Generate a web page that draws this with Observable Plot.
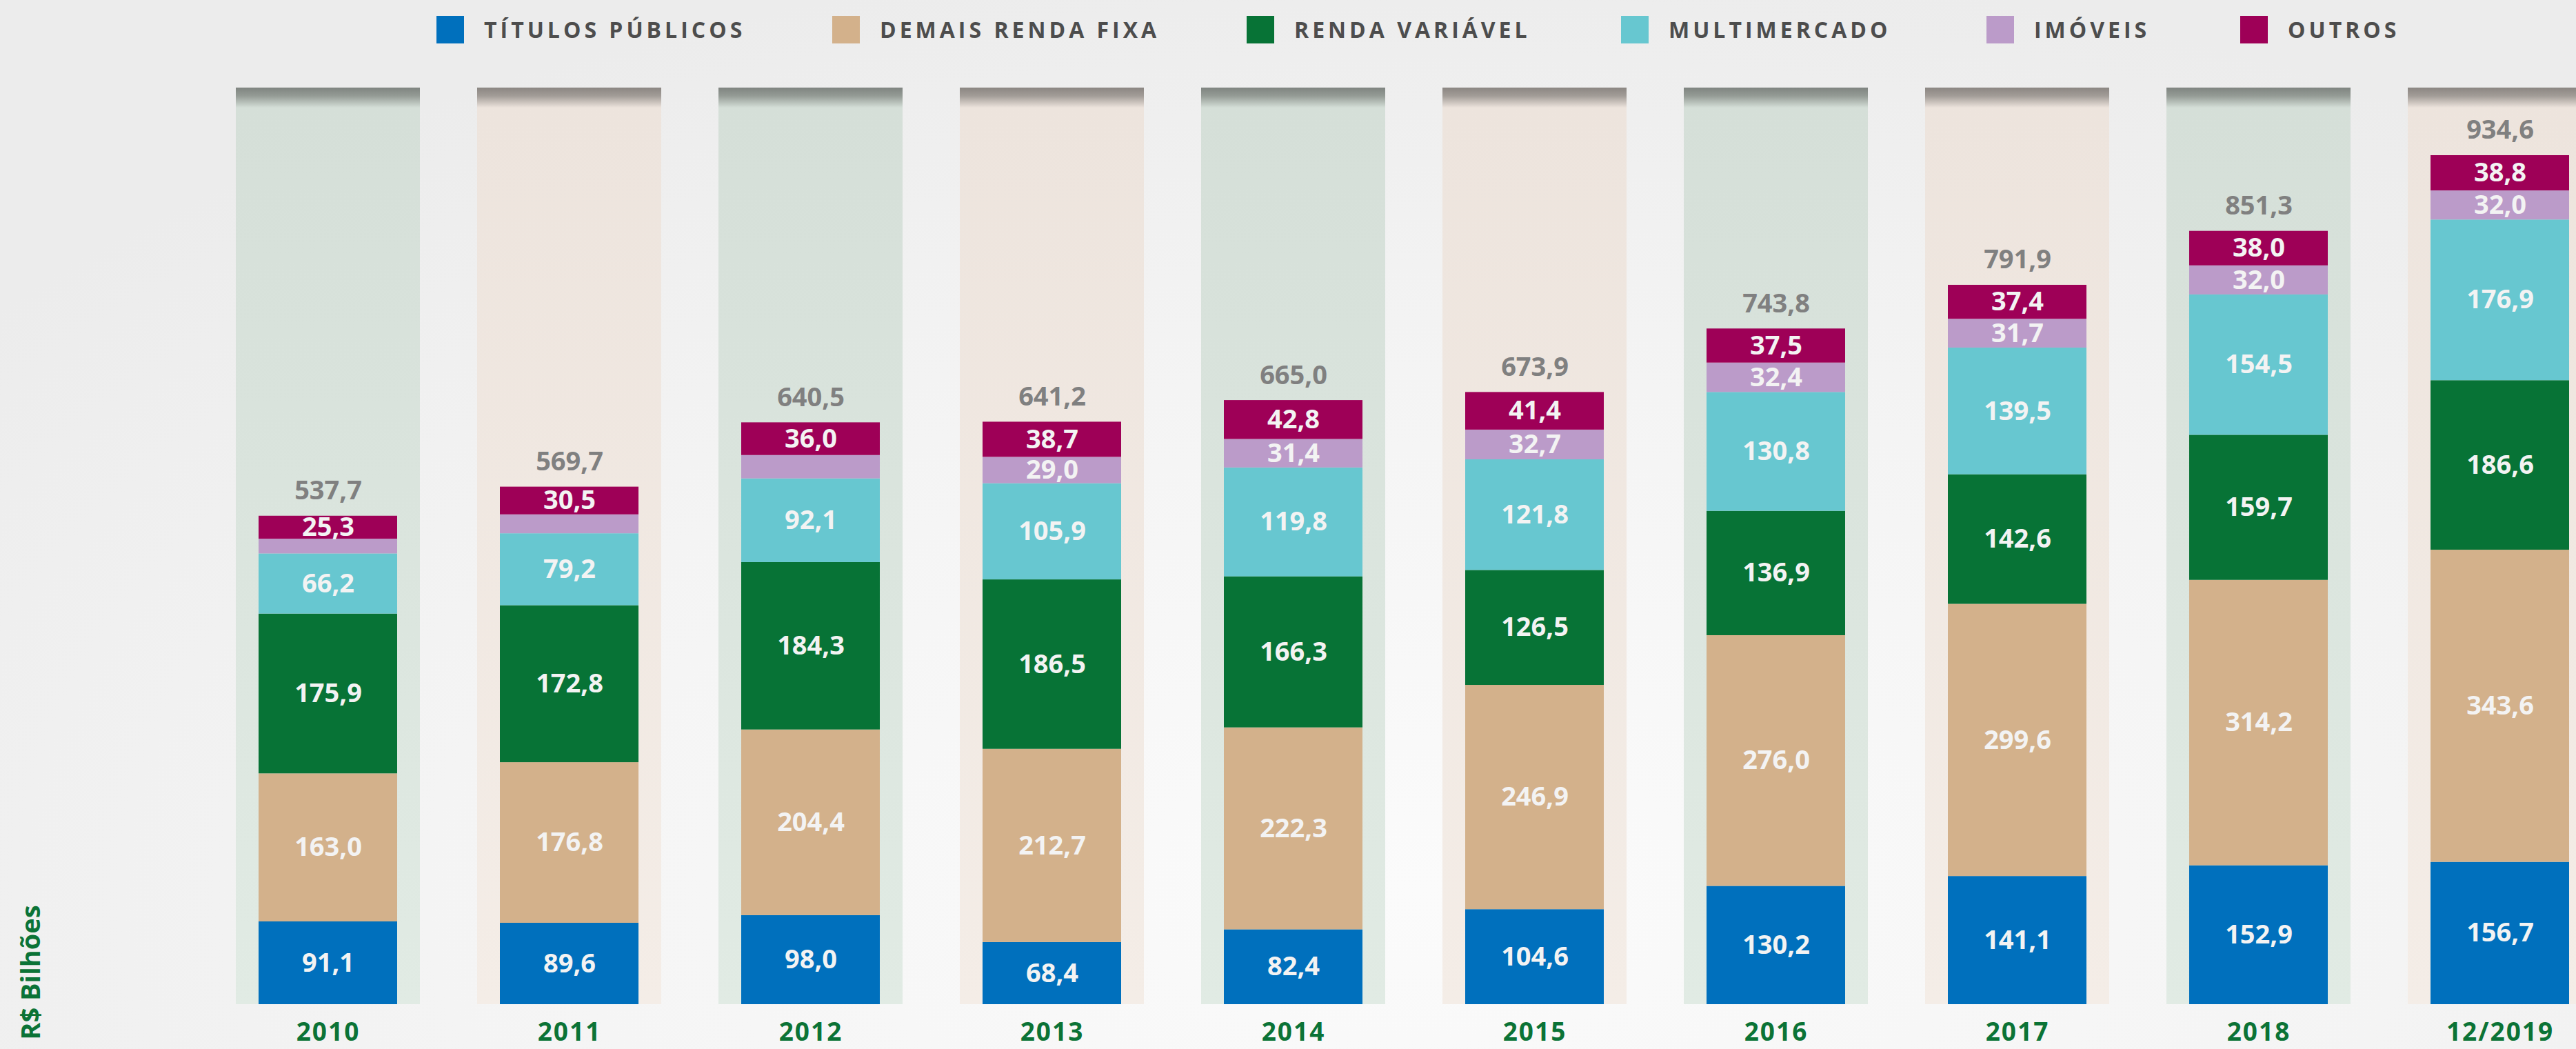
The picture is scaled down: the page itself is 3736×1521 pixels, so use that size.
<!DOCTYPE html>
<html lang="pt-BR">
<head>
<meta charset="utf-8">
<script src="https://cdn.jsdelivr.net/npm/d3@7"></script>
<script src="https://cdn.jsdelivr.net/npm/@observablehq/plot@0.6"></script>
<style>
  html, body { margin: 0; padding: 0; }
  body {
    width: 3736px; height: 1521px; overflow: hidden; position: relative;
    font-family: "Open Sans", "DejaVu Sans", sans-serif;
    background: radial-gradient(ellipse 70% 90% at 55% 85%, #fbfbfb 0%, #f4f4f4 55%, #ececec 100%);
  }
  #legend { height: 80px; position: relative; }
  .item { position: absolute; top: 23px; display: flex; align-items: center; height: 40px; }
  .swatch { width: 40px; height: 40px; margin-right: 29px; }
  .item span { font-size: 32px; font-weight: 700; color: #4d4d4d; line-height: 40px; letter-spacing: 5px; white-space: nowrap; }
  #ylabel {
    position: absolute; left: 43px; top: 1410px;
    transform: translate(-50%, -50%) rotate(-90deg);
    font-size: 38px; font-weight: 700; color: #0b7336; white-space: nowrap;
  }
  #chart svg { display: block; }
  .years text { letter-spacing: 2px; }
</style>
</head>
<body>
<svg width="0" height="0" style="position:absolute">
  <defs>
    <linearGradient id="colGreen" x1="0" y1="0" x2="0" y2="1">
      <stop offset="0" stop-color="#7f8480"/>
      <stop offset="0.009" stop-color="#949b95"/>
      <stop offset="0.022" stop-color="#d5dfd8"/>
      <stop offset="1" stop-color="#e1ebe4"/>
    </linearGradient>
    <linearGradient id="colBeige" x1="0" y1="0" x2="0" y2="1">
      <stop offset="0" stop-color="#8b8682"/>
      <stop offset="0.009" stop-color="#a29c97"/>
      <stop offset="0.022" stop-color="#ede4dd"/>
      <stop offset="1" stop-color="#f4ede7"/>
    </linearGradient>
  </defs>
</svg>
<div id="legend"></div>
<div id="chart"></div>
<div id="ylabel">R$ Bilhões</div>
<script>
// ---- data ----
const years = ["2010", "2011", "2012", "2013", "2014", "2015", "2016", "2017", "2018", "12/2019"];
const series = ["TÍTULOS PÚBLICOS", "DEMAIS RENDA FIXA", "RENDA VARIÁVEL", "MULTIMERCADO", "IMÓVEIS", "OUTROS"];
const colors = ["#0070bd", "#d3b18b", "#077336", "#67c7d0", "#bb9bc9", "#9e0057"];
const titulos  = [91.1, 89.6, 98.0, 68.4, 82.4, 104.6, 130.2, 141.1, 152.9, 156.7];
const demais   = [163.0, 176.8, 204.4, 212.7, 222.3, 246.9, 276.0, 299.6, 314.2, 343.6];
const rendaVar = [175.9, 172.8, 184.3, 186.5, 166.3, 126.5, 136.9, 142.6, 159.7, 186.6];
const multi    = [66.2, 79.2, 92.1, 105.9, 119.8, 121.8, 130.8, 139.5, 154.5, 176.9];
const imoveis  = [16.2, 20.8, 25.7, 29.0, 31.4, 32.7, 32.4, 31.7, 32.0, 32.0];
const outros   = [25.3, 30.5, 36.0, 38.7, 42.8, 41.4, 37.5, 37.4, 38.0, 38.8];
const totals   = [537.7, 569.7, 640.5, 641.2, 665.0, 673.9, 743.8, 791.9, 851.3, 934.6];
const yMax = 1009;

// legend layout (left edge of each swatch, px)
const legendLeft = [633, 1207, 1808, 2351, 2881, 3249];

const seriesValues = [titulos, demais, rendaVar, multi, imoveis, outros];
const rows = [];
series.forEach((s, si) => years.forEach((yr, i) => rows.push({year: yr, series: s, value: seriesValues[si][i]})));
const fmt = v => v.toFixed(1).replace(".", ",");
// the source leaves the thinnest IMÓVEIS segments unlabeled
const labelOf = d => (d.series === "IMÓVEIS" && d.value < 28) ? null : fmt(d.value);

// ---- legend ----
const legend = document.getElementById("legend");
series.forEach((s, i) => {
  const it = document.createElement("div");
  it.className = "item";
  it.style.left = legendLeft[i] + "px";
  it.innerHTML = `<div class="swatch" style="background:${colors[i]}"></div><span>${s}</span>`;
  legend.appendChild(it);
});

// ---- chart ----
const chart = Plot.plot({
  width: 3736,
  height: 1441,
  marginTop: 47,
  marginBottom: 65,
  marginLeft: 0,
  marginRight: 0,
  style: {background: "transparent", fontFamily: "'Open Sans', 'DejaVu Sans', sans-serif"},
  x: {type: "band", domain: years, range: [339, 3761.5], paddingInner: 0.2385, paddingOuter: 0, axis: null},
  y: {domain: [0, yMax], axis: null},
  color: {domain: series, range: colors},
  marks: [
    Plot.barY(years, {filter: (d, i) => i % 2 === 0, x: d => d, y1: 0, y2: yMax, fill: "url(#colGreen)"}),
    Plot.barY(years, {filter: (d, i) => i % 2 === 1, x: d => d, y1: 0, y2: yMax, fill: "url(#colBeige)"}),
    Plot.barY(rows, Plot.stackY({x: "year", y: "value", fill: "series", order: series, insetLeft: 33, insetRight: 33})),
    Plot.text(rows, Plot.stackY({
      x: "year", y: "value", z: "series", order: series,
      text: labelOf,
      fill: "#f3f3f3", fontSize: 38, fontWeight: 700, lineAnchor: "middle"
    })),
    Plot.text(years, {
      x: d => d, y: (d, i) => totals[i], text: (d, i) => fmt(totals[i]),
      lineAnchor: "bottom", dy: -24, fill: "#808080", fontSize: 38, fontWeight: 700
    }),
    Plot.text(years, {
      x: d => d, y: 0, text: d => d, lineAnchor: "middle", dy: 41,
      fill: "#0b7336", fontSize: 37, fontWeight: 700, className: "years"
    })
  ]
});
document.getElementById("chart").appendChild(chart);
</script>
</body>
</html>
